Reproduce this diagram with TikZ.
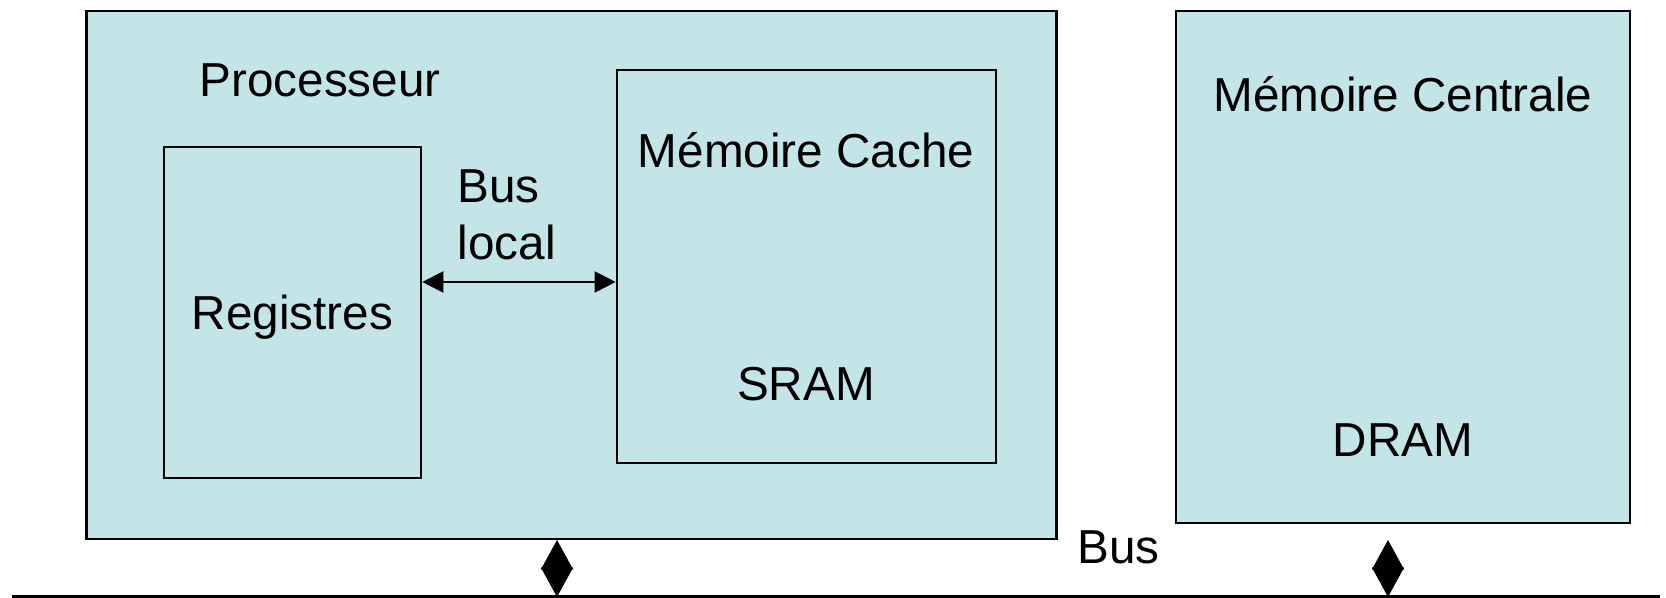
\documentclass[tikz,border=0pt]{standalone}
\usepackage{fontspec}
\setmainfont{Liberation Sans}
\usetikzlibrary{arrows.meta}
\definecolor{boxfill}{RGB}{196,229,232}
\tikzset{
  unit/.style={draw=black, fill=boxfill, line width=0.7pt, inner sep=0pt, minimum width=#1},
  label/.style={inner sep=0pt, font=\fontsize{13.55}{16}\selectfont},
  localbus/.style={line width=0.6pt, {Triangle[length=0.21cm,width=0.21cm]}-{Triangle[length=0.21cm,width=0.21cm]}},
  tap/.style={line width=0.3pt, {Triangle[length=0.295cm,width=0.32cm]}-{Triangle[length=0.295cm,width=0.32cm]}},
  busline/.style={line width=1pt}
}
\begin{document}
\begin{tikzpicture}[x=0.01cm, y=-0.01cm]
  \useasboundingbox (0,0) rectangle (1666,598);

  % processor with its registers and cache
  \node[unit=9.69cm, minimum height=5.28cm] (proc) at (571.5,275) {};
  \node[unit=2.57cm, minimum height=3.31cm] (reg) at (292.5,312.5) {};
  \node[unit=3.79cm, minimum height=3.93cm] (cache) at (806.5,266.5) {};

  % main memory
  \node[unit=4.54cm, minimum height=5.12cm] (mem) at (1403,267) {};

  % labels
  \node[label, anchor=base west] (tproc) at (199,97) {Processeur};
  \node[label, anchor=base] (treg) at (292.5,330) {Registres};
  \node[label, anchor=base west] (tbus1) at (457,203) {Bus};
  \node[label, anchor=base west] (tbus2) at (457,260) {local};
  \node[label, anchor=base] (tcache) at (806,168) {Mémoire Cache};
  \node[label, anchor=base] (tsram) at (806,401) {SRAM};
  \node[label, anchor=base] (tmem) at (1403,112) {Mémoire Centrale};
  \node[label, anchor=base] (tdram) at (1403,457) {DRAM};
  \node[label, anchor=base west] (tbus) at (1077,564) {Bus};

  % local bus between registers and cache
  \draw[localbus] (reg.east |- 0,282) -- (cache.west |- 0,282);

  % system bus
  \coordinate (busL) at (12,597);
  \coordinate (busR) at (1660,597);
  \draw[busline] (busL) -- (busR);

  % bus taps
  \coordinate (tapP) at (557,540);
  \coordinate (busP) at (557,597);
  \coordinate (tapM) at (1388,540);
  \coordinate (busM) at (1388,597);
  \draw[tap] (tapP) -- (busP);
  \draw[tap] (tapM) -- (busM);
\end{tikzpicture}
\end{document}
